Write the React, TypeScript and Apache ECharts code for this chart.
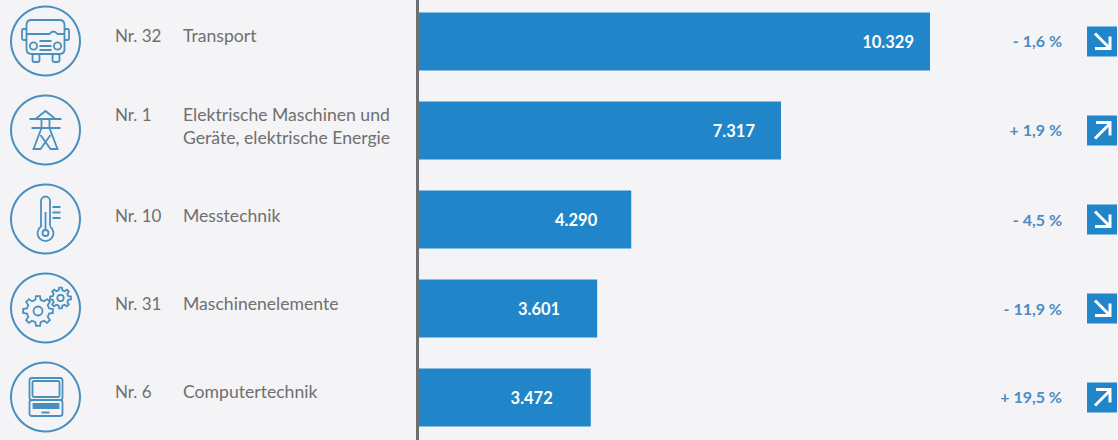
import React, { useEffect, useRef } from "react";
import * as echarts from "echarts";

const numbers = ["Nr. 32", "Nr. 1", "Nr. 10", "Nr. 31", "Nr. 6"];
const sectors = [
  ["Transport"],
  ["Elektrische Maschinen und", "Geräte, elektrische Energie"],
  ["Messtechnik"],
  ["Maschinenelemente"],
  ["Computertechnik"],
];
const values = [10329, 7317, 4290, 3601, 3472];
const changes = ["- 1,6 %", "+ 1,9 %", "- 4,5 %", "- 11,9 %", "+ 19,5 %"];

// layout only
const valueInsets = [16, 26, 34, 37, 38];
const labelOffsets = [-6.5, -16.5, -4.5, -5.5, -6.5];
const changeOffsets = [-1, -1.5, 0, 0, -1];

const BLUE = "#2185c9";
const ICON = "#4a90bf";
const GREY = "#6f6f70";
const CHANGE = "#4a8cc4";
const FONT = "Lato";

function gear(cx: number, cy: number, r: number, teeth: number) {
  const depth = r * 0.24;
  const pts: string[] = [];
  const step = (Math.PI * 2) / teeth;
  for (let i = 0; i < teeth; i++) {
    const a = i * step;
    const seq: [number, number][] = [
      [a - step * 0.3, r - depth],
      [a - step * 0.17, r],
      [a + step * 0.17, r],
      [a + step * 0.3, r - depth],
    ];
    seq.forEach(([t, rad]) => {
      pts.push(`${pts.length ? "L" : "M"}${(cx + rad * Math.cos(t)).toFixed(2)} ${(cy + rad * Math.sin(t)).toFixed(2)}`);
    });
  }
  return pts.join(" ") + " Z";
}
function circle(cx: number, cy: number, r: number) {
  return `M${cx - r} ${cy} A${r} ${r} 0 1 1 ${cx + r} ${cy} A${r} ${r} 0 1 1 ${cx - r} ${cy} Z`;
}
function roundRect(x0: number, y0: number, x1: number, y1: number, r: number) {
  return `M${x0 + r} ${y0} L${x1 - r} ${y0} Q${x1} ${y0} ${x1} ${y0 + r} L${x1} ${y1 - r} Q${x1} ${y1} ${x1 - r} ${y1} L${x0 + r} ${y1} Q${x0} ${y1} ${x0} ${y1 - r} L${x0} ${y0 + r} Q${x0} ${y0} ${x0 + r} ${y0} Z`;
}

const iconPaths: string[] = [
  [
    roundRect(-19, -21, 19, 13, 5),
    roundRect(-23.5, -12, -19, -1, 1.5),
    roundRect(19, -12, 23.5, -1, 1.5),
    roundRect(-13, 13, -6, 21, 2),
    roundRect(7, 13, 14, 21, 2),
    "M-19 -7 L4 -7 Q8 -12 12 -7 L19 -7",
    circle(-12, 5, 3.6),
    circle(12, 5, 3.6),
    "M-6 0 L6 0 M-6 5 L6 5 M-6 9 L6 9",
  ].join(" "),
  "M-16 -11 L16 -11 M-14 -2 L15 -2 M-10 -11 L0 -19 L10 -11 M-4 -11 L-4 -2 L-12 19 L-5 19 L5 5 M4 -11 L4 -2 L12 19 L5 19 L-5 5",
  [
    "M-4.5 8 L-4.5 -18 A4.5 4.5 0 0 1 4.5 -18 L4.5 7",
    "M-4.5 7.5 A8 8 0 1 0 4.5 7.5",
    circle(0, 14, 3),
    "M0 -7 L0 11 M7 -12 L15 -12 M7 -6.5 L15 -6.5 M7 -1 L15 -1",
  ].join(" "),
  [gear(-7.5, 3, 15, 8), circle(-7.5, 3, 4.5), gear(15, -10, 10.5, 8), circle(15, -10, 3.2)].join(" "),
  [
    roundRect(-16, -19, 17, 3, 2.5),
    roundRect(-13, -16, 14, 0, 1.5),
    roundRect(-16, 3, 17, 19, 2.5),
    "M-12 7 L13 7 L13 11 L-12 11 Z M-12 9 L13 9",
    "M-4 15.5 L4 15.5",
  ].join(" "),
];
iconPaths.forEach((d, i) => {
  echarts.graphic.registerShape("rowIcon" + i, echarts.graphic.extendPath(d, {}));
});

export default function App() {
  const ref = useRef<HTMLDivElement>(null);
  useEffect(() => {
    document.body.style.margin = "0";
    document.body.style.background = "#f4f4f6";
    const chart = echarts.init(ref.current!, null, { renderer: "svg" });
    chart.setOption({
      animation: false,
      backgroundColor: "#f4f4f6",
      textStyle: { fontFamily: FONT },
      grid: { left: 419, top: -3, width: 692.6, height: 445, outerBoundsMode: "none" },
      xAxis: { type: "value", min: 0, max: 14000, show: false },
      yAxis: {
        type: "category",
        inverse: true,
        data: numbers,
        offset: 1.5,
        axisLine: { show: true, onZero: false, lineStyle: { color: "#6d6e70", width: 3 } },
        axisTick: { show: false },
        axisLabel: { show: false },
      },
      series: [
        {
          type: "bar",
          barWidth: 58,
          itemStyle: { color: BLUE },
          data: values.map((v, i) => ({
            value: v,
            label: {
              show: true,
              position: "insideRight",
              distance: valueInsets[i],
              color: "#fff",
              fontFamily: FONT,
              fontWeight: "bold",
              fontSize: 16.5,
              formatter: () => v.toLocaleString("de-DE"),
            },
          })),
        },
        {
          type: "custom",
          silent: true,
          clip: false,
          encode: { x: 0, y: 1 },
          data: values.map((_, i) => [0, i]),
          renderItem: (_p: any, api: any) => {
            const i = api.value(1) as number;
            const cy = api.coord([0, i])[1] as number;
            const ly = cy + labelOffsets[i];
            const up = changes[i].startsWith("+");
            const white = { stroke: "#fff", fill: "none", lineWidth: 3 };
            const children: any[] = [
              {
                type: "circle",
                shape: { cx: 45.5, cy: cy - 0.5, r: 34.5 },
                style: { fill: "none", stroke: ICON, lineWidth: 2 },
              },
              {
                type: "rowIcon" + i,
                x: 45.5,
                y: cy - 0.5,
                style: { fill: "none", stroke: ICON, lineWidth: 1.8 },
              },
              {
                type: "text",
                style: {
                  text: numbers[i], x: 115, y: ly, fill: GREY, font: `17px ${FONT}`,
                  textAlign: "left", textVerticalAlign: "middle",
                },
              },
              ...sectors[i].map((line, k) => ({
                type: "text",
                style: {
                  text: line, x: 183, y: ly + k * 23, fill: GREY, font: `17.6px ${FONT}`,
                  textAlign: "left", textVerticalAlign: "middle",
                },
              })),
              {
                type: "text",
                style: {
                  text: changes[i], x: 1062, y: cy + changeOffsets[i], fill: CHANGE, font: `bold 16px ${FONT}`,
                  textAlign: "right", textVerticalAlign: "middle",
                },
              },
              { type: "rect", shape: { x: 1087, y: cy - 15, width: 30, height: 30 }, style: { fill: BLUE } },
              {
                type: "polyline",
                shape: { points: up ? [[1095, cy + 8], [1109, cy - 6]] : [[1095, cy - 8], [1109, cy + 6]] },
                style: white,
              },
              {
                type: "polyline",
                shape: {
                  points: up
                    ? [[1096, cy - 8], [1110, cy - 8], [1110, cy + 5]]
                    : [[1110, cy - 5], [1110, cy + 7], [1095, cy + 7]],
                },
                style: white,
              },
            ];
            return { type: "group", children };
          },
        },
      ],
    });
    return () => chart.dispose();
  }, []);
  return <div ref={ref} style={{ width: 1118, height: 440 }} />;
}
